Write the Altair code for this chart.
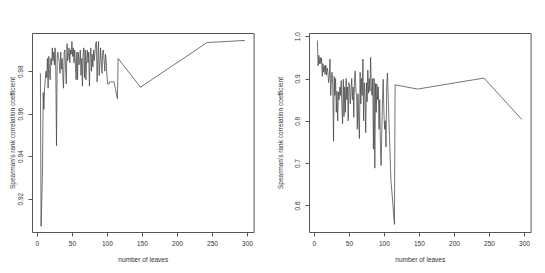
import altair as alt
import pandas as pd

# number of leaves (shared by both panels)
leaves = list(range(5, 107)) + [108, 110, 112, 115, 116, 148, 243, 297]

left_rho = [
    0.979, 0.907, 0.920, 0.933, 0.970, 0.962, 0.972, 0.976, 0.980, 0.977,
    0.986, 0.972, 0.987, 0.979, 0.976, 0.986, 0.983, 0.991, 0.985, 0.989,
    0.983, 0.991, 0.980, 0.945, 0.988, 0.989, 0.986, 0.984, 0.979, 0.989,
    0.981, 0.986, 0.978, 0.972, 0.989, 0.990, 0.982, 0.974, 0.993, 0.985,
    0.987, 0.991, 0.984, 0.990, 0.988, 0.994, 0.987, 0.991, 0.984, 0.990,
    0.983, 0.976, 0.989, 0.976, 0.989, 0.983, 0.984, 0.990, 0.978, 0.986,
    0.973, 0.988, 0.991, 0.977, 0.990, 0.976, 0.985, 0.990, 0.984, 0.989,
    0.973, 0.986, 0.991, 0.980, 0.988, 0.982, 0.990, 0.985, 0.989, 0.993,
    0.994, 0.975, 0.986, 0.994, 0.978, 0.984, 0.991, 0.984, 0.979, 0.989,
    0.990, 0.985, 0.980, 0.988, 0.985, 0.978, 0.974, 0.974, 0.974, 0.975,
    0.975, 0.975,
    0.975, 0.975, 0.972, 0.967, 0.986, 0.9725, 0.9935, 0.9945,
]

right_rho = [
    0.990, 0.930, 0.955, 0.935, 0.950, 0.935, 0.948, 0.905, 0.935, 0.915,
    0.930, 0.910, 0.932, 0.908, 0.925, 0.915, 0.890, 0.905, 0.946, 0.860,
    0.900, 0.915, 0.880, 0.752, 0.905, 0.860, 0.900, 0.820, 0.870, 0.800,
    0.868, 0.850, 0.880, 0.860, 0.895, 0.830, 0.793, 0.898, 0.810, 0.880,
    0.820, 0.900, 0.850, 0.880, 0.800, 0.890, 0.880, 0.840, 0.870, 0.900,
    0.850, 0.880, 0.808, 0.900, 0.918, 0.870, 0.860, 0.780, 0.864, 0.800,
    0.758, 0.915, 0.840, 0.900, 0.860, 0.946, 0.800, 0.890, 0.860, 0.772,
    0.890, 0.845, 0.920, 0.865, 0.900, 0.870, 0.950, 0.880, 0.860, 0.900,
    0.733, 0.900, 0.688, 0.888, 0.820, 0.887, 0.850, 0.880, 0.780, 0.850,
    0.740, 0.694, 0.780, 0.850, 0.898, 0.820, 0.780, 0.800, 0.738, 0.880,
    0.913, 0.860,
    0.760, 0.660, 0.620, 0.555, 0.885, 0.875, 0.901, 0.803,
]

x_ticks = [0, 50, 100, 150, 200, 250, 300]
left_y_ticks = [0.92, 0.94, 0.96, 0.98]
right_y_ticks = [0.6, 0.7, 0.8, 0.9, 1.0]

x_title = "number of leaves"
y_title = "Spearman's rank correlation coefficient"

FONT = "Liberation Sans"
FS = 6.5
INK = "#555555"
TEXT = "#333333"


def panel(values, y_domain, y_ticks, y_fmt, title_pad):
    df = pd.DataFrame({"leaves": leaves, "rho": values})
    return (
        alt.Chart(df)
        .mark_line(color="#444444", strokeWidth=0.75, clip=True)
        .encode(
            x=alt.X(
                "leaves:Q",
                scale=alt.Scale(domain=[-7, 309.5], nice=False, zero=False),
                axis=alt.Axis(
                    values=x_ticks,
                    format="d",
                    title=x_title,
                    grid=False,
                    domain=False,
                    tickSize=4,
                    tickColor=INK,
                    labelPadding=4.5,
                    titlePadding=9,
                    labelFontSize=FS,
                    titleFontSize=FS,
                    labelFont=FONT,
                    titleFont=FONT,
                    titleFontWeight="normal",
                    labelColor=TEXT,
                    titleColor=TEXT,
                    labelFlush=False,
                ),
            ),
            y=alt.Y(
                "rho:Q",
                scale=alt.Scale(domain=y_domain, nice=False, zero=False),
                axis=alt.Axis(
                    values=y_ticks,
                    format=y_fmt,
                    title=y_title,
                    grid=False,
                    domain=False,
                    tickSize=4,
                    tickColor=INK,
                    labelAngle=270,
                    labelAlign="center",
                    labelBaseline="bottom",
                    labelPadding=4.5,
                    titlePadding=title_pad,
                    labelFontSize=FS,
                    titleFontSize=FS,
                    labelFont=FONT,
                    titleFont=FONT,
                    titleFontWeight="normal",
                    labelColor=TEXT,
                    titleColor=TEXT,
                    labelFlush=False,
                ),
            ),
        )
        .properties(width=221.6, height=199)
    )


left = panel(left_rho, [0.9043, 0.998], left_y_ticks, ".2f", 2)
right = panel(right_rho, [0.537, 1.0076], right_y_ticks, ".1f", 11.5)

chart = (
    alt.hconcat(left, right, spacing=21)
    .properties(padding={"left": 0, "top": 23, "right": 0, "bottom": 0})
    .configure_view(stroke=INK, strokeWidth=1)
)

chart.save("out.html", embed_options={"renderer": "svg", "actions": False})
